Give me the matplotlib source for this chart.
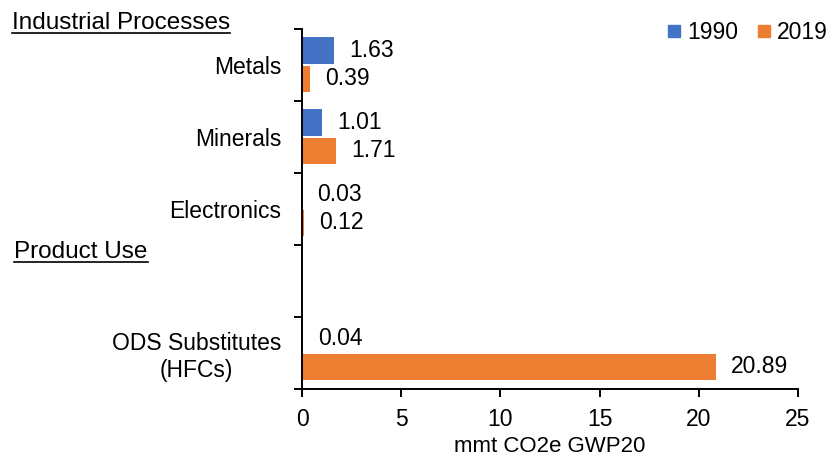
import numpy as np
import matplotlib.pyplot as plt
from matplotlib.lines import Line2D

plt.rcParams['font.family'] = ['Liberation Sans', 'DejaVu Sans']

CATEGORIES = ["Metals", "Minerals", "Electronics", "", "ODS Substitutes\n(HFCs)"]
V1990 = [1.63, 1.01, 0.03, np.nan, 0.04]
V2019 = [0.39, 1.71, 0.12, np.nan, 20.89]
YEARS = ["1990", "2019"]
COLORS = ["#4472C4", "#ED7D31"]
XTICKS = [0, 5, 10, 15, 20, 25]

fig = plt.figure(figsize=(8.32, 4.58), dpi=100)
ax = fig.add_axes([0.363, 0.151, 0.596, 0.786])

y = np.arange(len(CATEGORIES))
h = 0.37
for vals, off, col, lab in [(V1990, -h / 2 - 0.01, COLORS[0], YEARS[0]),
                            (V2019, h / 2 + 0.01, COLORS[1], YEARS[1])]:
    ax.barh(y + off, vals, height=h, color=col, label=lab)
    for yi, v in zip(y, vals):
        if np.isnan(v):
            continue
        ax.text(v + 0.75, yi + off, f"{v:.2f}", va="center", ha="left", fontsize=16.5)

ax.set_ylim(len(CATEGORIES) - 0.5, -0.5)
ax.set_xlim(0, 25)
ax.set_xticks(XTICKS)
ax.set_xticklabels([str(t) for t in XTICKS], fontsize=16.5)
ax.set_yticks(np.arange(-0.5, len(CATEGORIES), 1.0))
ax.set_yticklabels([])
ax.set_yticks(y, minor=True)
ax.set_yticklabels(CATEGORIES, minor=True, fontsize=16.5, multialignment="center")
ax.tick_params(axis="y", which="minor", length=0, pad=15)
ax.tick_params(axis="both", which="major", length=6, width=1.4, direction="out")
ax.tick_params(axis="x", pad=8)
for s in ["top", "right"]:
    ax.spines[s].set_visible(False)
for s in ["left", "bottom"]:
    ax.spines[s].set_linewidth(1.4)
ax.set_xlabel("mmt CO2e GWP20", fontsize=16, labelpad=3.5)

handles = [Line2D([], [], marker="s", linestyle="", markersize=8.6, color=c) for c in COLORS]
fig.legend(handles, YEARS, loc="center left", bbox_to_anchor=(0.800, 0.930), ncol=2,
           frameon=False, fontsize=16.5, handletextpad=0.25, columnspacing=0.75,
           handlelength=0.7, borderpad=0, borderaxespad=0)

# underlined section headers
fig.canvas.draw()
renderer = fig.canvas.get_renderer()
for txt, xf, yf, uy in [("Industrial Processes", 0.014, 0.937, 0.929),
                        ("Product Use", 0.017, 0.437, 0.428)]:
    t = fig.text(xf, yf, txt, fontsize=17.5, ha="left", va="baseline")
    bb = t.get_window_extent(renderer).transformed(fig.transFigure.inverted())
    fig.add_artist(Line2D([bb.x0, bb.x1], [uy, uy], color="black",
                          linewidth=1.2, transform=fig.transFigure))

fig.savefig("out.png", dpi=100)
